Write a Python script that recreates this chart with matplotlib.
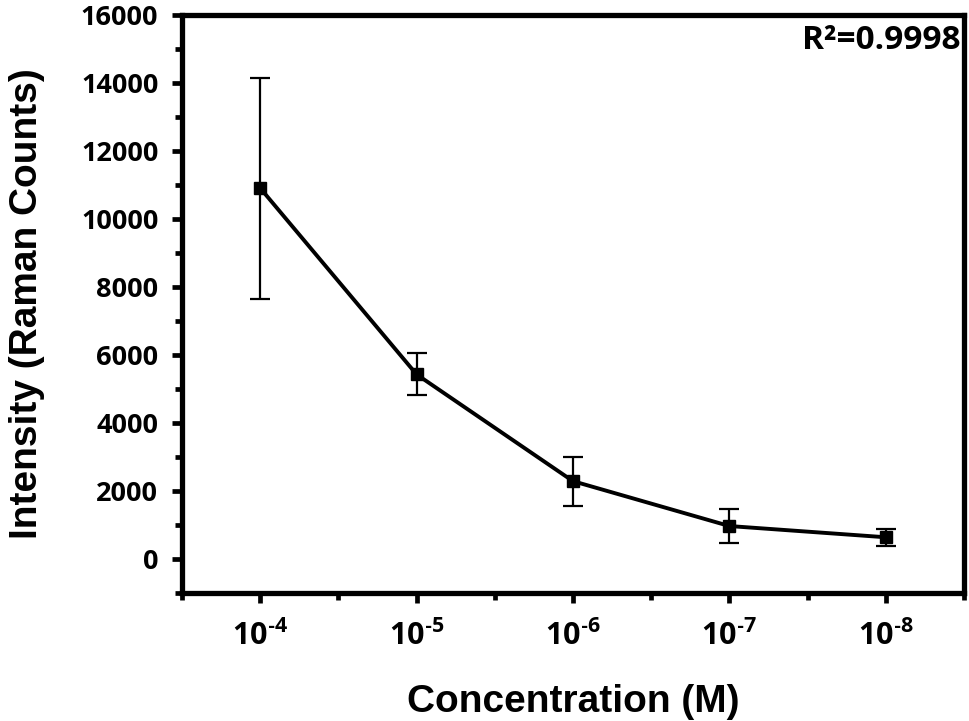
import matplotlib
matplotlib.use("Agg")
import matplotlib.pyplot as plt
from matplotlib.ticker import FixedLocator

categories = ["10^{\u20104}", "10^{\u20105}", "10^{\u20106}", "10^{\u20107}", "10^{\u20108}"]
intensity = [10910, 5430, 2290, 970, 640]
errors = [3250, 620, 720, 500, 255]
r2_text = "R²=0.9998"

plt.rcParams['mathtext.fontset'] = 'custom'
plt.rcParams['mathtext.bf'] = 'Open Sans:bold'
plt.rcParams['mathtext.rm'] = 'Open Sans:bold'

fig = plt.figure(figsize=(9.69, 7.21), dpi=100)
ax = fig.add_axes([0.1878, 0.1775, 0.8070, 0.8017])

x = list(range(1, len(categories) + 1))
ax.errorbar(x, intensity, yerr=errors, color='black', lw=2.8, marker='s', ms=9,
            ecolor='black', elinewidth=1.6, capsize=7, capthick=1.6, zorder=3)

ax.set_xlim(0.5, 5.5)
ax.set_ylim(-1000, 16000)
ax.xaxis.set_major_locator(FixedLocator(x))
ax.set_xticklabels([r'$\mathbf{' + c + '}$' for c in categories])
ax.xaxis.set_minor_locator(FixedLocator([0.5, 1.5, 2.5, 3.5, 4.5, 5.5]))
ax.yaxis.set_major_locator(FixedLocator(list(range(0, 16001, 2000))))
ax.yaxis.set_minor_locator(FixedLocator(list(range(-1000, 16000, 2000))))

for s in ax.spines.values():
    s.set_linewidth(3.8)
ax.tick_params(axis='both', which='major', direction='out', length=7, width=3.4, pad=10)
ax.tick_params(axis='both', which='minor', direction='out', length=5, width=3.4)
ax.tick_params(axis='x', which='major', pad=12)

for lab in ax.get_yticklabels():
    lab.set_fontfamily('Open Sans')
    lab.set_fontweight('bold')
    lab.set_fontsize(19.5)
for lab in ax.get_xticklabels():
    lab.set_fontsize(22)

ax.set_xlabel("Concentration (M)", fontfamily='Liberation Sans', fontweight='bold',
              fontsize=28, labelpad=24)
ax.set_ylabel("Intensity (Raman Counts)", fontfamily='Liberation Sans', fontweight='bold',
              fontsize=28, labelpad=26)

ax.text(0.995, 0.985, r2_text, transform=ax.transAxes, ha='right', va='top',
        fontfamily='Open Sans', fontweight='bold', fontsize=24)

fig.savefig("out.png", dpi=100)
